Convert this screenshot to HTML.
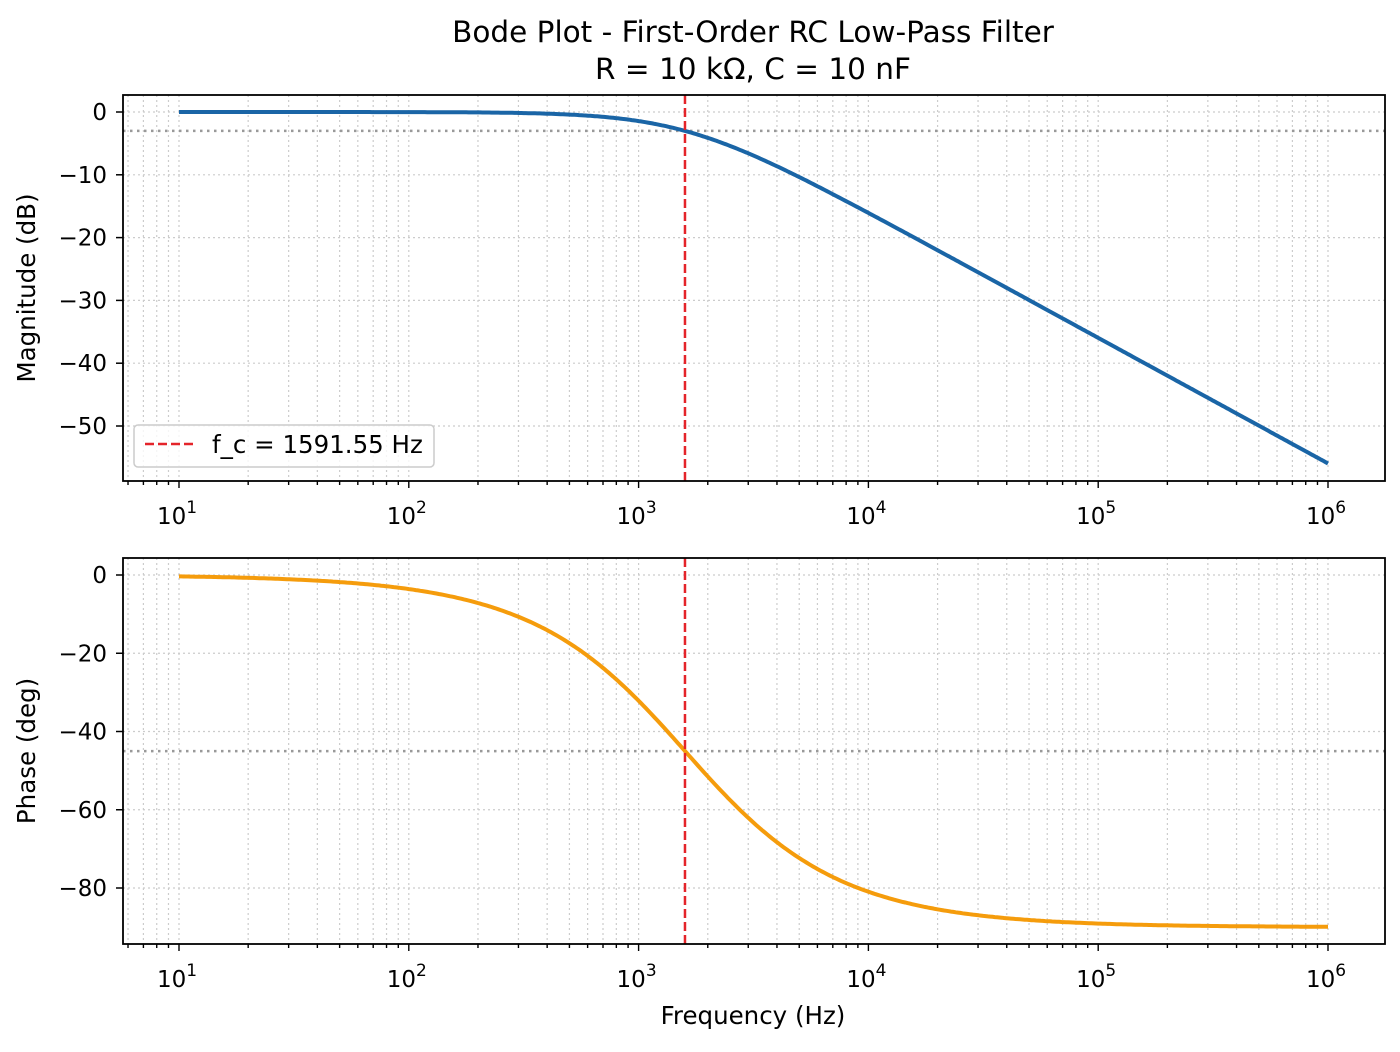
<!DOCTYPE html>
<html><head><meta charset="utf-8"><style>
html,body{margin:0;padding:0;background:#fff}
svg text{font-family:"DejaVu Sans","Liberation Sans",sans-serif;fill:#000}
</style></head><body>
<svg id="s" width="1400" height="1047" xmlns="http://www.w3.org/2000/svg"></svg>
<script>
const s=document.getElementById('s');let h='';
const X0=179,DX=229.8;
const fx=f=>X0+(Math.log10(f)-1)*DX;
const L=123,R=1385;
function axes(top,bot,y0,py,yt,ylab,fn,color,hline){
  const Y=v=>y0-v*py;
  for(let d=0;d<=6;d++)for(let m=1;m<10;m++){const x=fx(m*Math.pow(10,d));if(x<L||x>R)continue;
    h+=`<line x1="${x}" x2="${x}" y1="${top}" y2="${bot}" stroke="#ccc" stroke-width="1.2" stroke-dasharray="2,3"/>`;}
  yt.forEach(v=>{const y=Y(v);h+=`<line x1="${L}" x2="${R}" y1="${y}" y2="${y}" stroke="#ccc" stroke-width="1.2" stroke-dasharray="2,3"/>`;
    h+=`<line x1="${L-7}" x2="${L}" y1="${y}" y2="${y}" stroke="#000" stroke-width="1.5"/>`;
    h+=`<text x="${L-16}" y="${y+8}" font-size="23" text-anchor="end">${v==0?'0':'\u2212'+(-v)}</text>`;});
  h+=`<line x1="${L}" x2="${R}" y1="${Y(hline)}" y2="${Y(hline)}" stroke="#999" stroke-width="2.5" stroke-dasharray="2.5,4.5"/>`;
  let p='';for(let i=0;i<=500;i++){const lf=1+5*i/500,f=Math.pow(10,lf);p+=(i?'L':'M')+fx(f).toFixed(1)+','+Y(fn(f)).toFixed(1);}
  h+=`<path d="${p}" fill="none" stroke="${color}" stroke-width="4"/>`;
  const xc=fx(1591.55);
  h+=`<line x1="${xc}" x2="${xc}" y1="${top}" y2="${bot}" stroke="#e4242a" stroke-width="2.5" stroke-dasharray="9,4"/>`;
  for(let d=0;d<=6;d++)for(let m=1;m<10;m++){const x=fx(m*Math.pow(10,d));if(x<L||x>R)continue;
    h+=`<line x1="${x}" x2="${x}" y1="${bot}" y2="${bot+(m==1?7:4)}" stroke="#000" stroke-width="1.4"/>`;}
  for(let e=1;e<=6;e++){const x=fx(Math.pow(10,e));h+=`<text x="${x-2}" y="${bot+43}" font-size="23" text-anchor="middle">10<tspan font-size="17" dy="-11">${e}</tspan></text>`;}
  h+=`<rect x="${L}" y="${top}" width="${R-L}" height="${bot-top}" fill="none" stroke="#000" stroke-width="1.8"/>`;
  const yc=(top+bot)/2;
  h+=`<text transform="translate(35,${yc}) rotate(-90)" font-size="24.5" text-anchor="middle">${ylab}</text>`;
}
const w=f=>f/1591.55;
axes(95,481,112,6.28,[0,-10,-20,-30,-40,-50],'Magnitude (dB)',f=>-10*Math.log10(1+w(f)*w(f)),'#1a65a6',-3.01);
axes(558,944,575,3.9125,[0,-20,-40,-60,-80],'Phase (deg)',f=>-Math.atan(w(f))*180/Math.PI,'#f59c0c',-45);
h+=`<text x="753" y="42" font-size="29.5" text-anchor="middle">Bode Plot - First-Order RC Low-Pass Filter</text>`;
h+=`<text x="753" y="79" font-size="29.5" text-anchor="middle">R = 10 kΩ, C = 10 nF</text>`;
h+=`<text x="753" y="1024" font-size="24.5" text-anchor="middle">Frequency (Hz)</text>`;
h+=`<rect x="134" y="425" width="300" height="42" rx="4" fill="#fff" fill-opacity="0.8" stroke="#ccc" stroke-width="1.5"/>`;
h+=`<line x1="145" x2="193" y1="444" y2="444" stroke="#e4242a" stroke-width="2.5" stroke-dasharray="9,4"/>`;
h+=`<text x="212" y="453" font-size="24.5">f_c = 1591.55 Hz</text>`;
s.innerHTML=h;
</script>
</body></html>
